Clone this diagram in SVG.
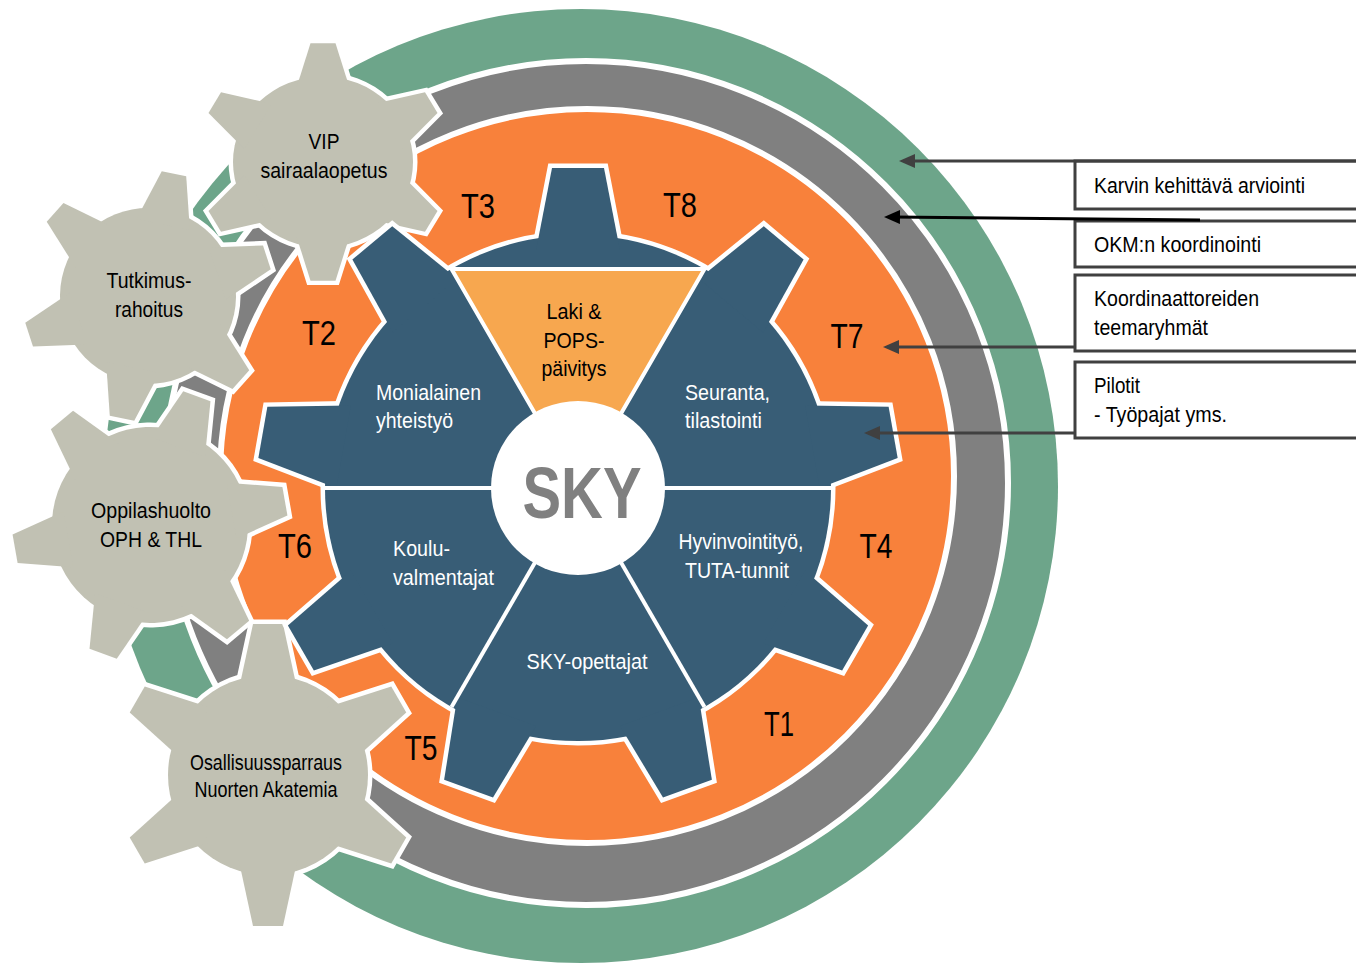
<svg xmlns="http://www.w3.org/2000/svg" width="1356" height="965" viewBox="0 0 1356 965">
<style>
.beige{fill:#C1C1B3}
.blue{fill:#385D76}
.gs{stroke:#fff;stroke-width:9;stroke-linejoin:miter}
.gf{stroke:none}
.lbl{font-family:"Liberation Sans Narrow","Liberation Sans",Arial,sans-serif;font-size:22px}
.t{font-size:35px;text-anchor:middle;fill:#000}
.w{fill:#fff}
.k{fill:#000}
.mid{text-anchor:middle}
.box{fill:#fff;stroke:#404040;stroke-width:3}
.arr{stroke:#404040;stroke-width:3;fill:none}
.div{stroke:#fff;stroke-width:4}
</style>
<defs>
<marker id="ah" markerUnits="userSpaceOnUse" markerWidth="16" markerHeight="14" refX="6" refY="7" orient="auto"><path d="M0,0 L16,7 L0,14 z" fill="#404040"/></marker>
<marker id="ahk" markerUnits="userSpaceOnUse" markerWidth="16" markerHeight="14" refX="6" refY="7" orient="auto"><path d="M0,0 L16,7 L0,14 z" fill="#000"/></marker>
<polygon id="tooth-vip" points="-27.5,-75 -12.5,-125 12.5,-125 27.5,-75"/>
<g id="shape-vip"><circle r="90"/><use href="#tooth-vip"/><use href="#tooth-vip" transform="rotate(60)"/><use href="#tooth-vip" transform="rotate(120)"/><use href="#tooth-vip" transform="rotate(180)"/><use href="#tooth-vip" transform="rotate(240)"/><use href="#tooth-vip" transform="rotate(300)"/></g>
<polygon id="tooth-tut" points="-27.3,-73 -12.5,-125 12.5,-125 27.3,-73"/>
<g id="shape-tut"><circle r="88"/><use href="#tooth-tut"/><use href="#tooth-tut" transform="rotate(60)"/><use href="#tooth-tut" transform="rotate(120)"/><use href="#tooth-tut" transform="rotate(180)"/><use href="#tooth-tut" transform="rotate(240)"/><use href="#tooth-tut" transform="rotate(300)"/></g>
<polygon id="tooth-opp" points="-28.3,-83 -14.5,-137 14.5,-137 28.3,-83"/>
<g id="shape-opp"><circle r="98"/><use href="#tooth-opp"/><use href="#tooth-opp" transform="rotate(60)"/><use href="#tooth-opp" transform="rotate(120)"/><use href="#tooth-opp" transform="rotate(180)"/><use href="#tooth-opp" transform="rotate(240)"/><use href="#tooth-opp" transform="rotate(300)"/></g>
<polygon id="tooth-osa" points="-29.3,-85 -15,-151 15,-151 29.3,-85"/>
<g id="shape-osa"><circle r="100"/><use href="#tooth-osa"/><use href="#tooth-osa" transform="rotate(60)"/><use href="#tooth-osa" transform="rotate(120)"/><use href="#tooth-osa" transform="rotate(180)"/><use href="#tooth-osa" transform="rotate(240)"/><use href="#tooth-osa" transform="rotate(300)"/></g>
<polygon id="tooth-blue" points="-41.9,-238 -26,-320 26,-320 41.9,-238"/>
<g id="shape-blue"><circle r="253"/><use href="#tooth-blue"/><use href="#tooth-blue" transform="rotate(40)"/><use href="#tooth-blue" transform="rotate(80)"/><use href="#tooth-blue" transform="rotate(120)"/><use href="#tooth-blue" transform="rotate(160)"/><use href="#tooth-blue" transform="rotate(200)"/><use href="#tooth-blue" transform="rotate(240)"/><use href="#tooth-blue" transform="rotate(280)"/><use href="#tooth-blue" transform="rotate(320)"/></g>
</defs>

<g id="rings">
<circle id="ring-karvi" cx="581" cy="486" r="477" fill="#6DA58A"/>
<circle id="ring-okm" cx="586" cy="483" r="422" fill="#808080" stroke="#fff" stroke-width="6"/>
<circle id="ring-teema" cx="587" cy="476" r="367" fill="#F8813B" stroke="#fff" stroke-width="6"/>
</g>

<g id="ring-labels" class="lbl">
<text class="t" x="478" y="218" textLength="34" lengthAdjust="spacingAndGlyphs">T3</text>
<text class="t" x="680" y="217" textLength="34" lengthAdjust="spacingAndGlyphs">T8</text>
<text class="t" x="319" y="345" textLength="34" lengthAdjust="spacingAndGlyphs">T2</text>
<text class="t" x="847" y="348" textLength="33" lengthAdjust="spacingAndGlyphs">T7</text>
<text class="t" x="295" y="558" textLength="34" lengthAdjust="spacingAndGlyphs">T6</text>
<text class="t" x="876" y="558" textLength="33" lengthAdjust="spacingAndGlyphs">T4</text>
<text class="t" x="421" y="760" textLength="33" lengthAdjust="spacingAndGlyphs">T5</text>
<text class="t" x="779" y="736" textLength="30" lengthAdjust="spacingAndGlyphs">T1</text>
</g>

<g id="gear-vip">
<g transform="translate(323,162) scale(1,0.95)">
<use href="#shape-vip" class="beige gs"/>
<use href="#shape-vip" class="beige gf"/>
</g>
<text class="lbl k mid" x="324" y="149" textLength="31" lengthAdjust="spacingAndGlyphs">VIP</text>
<text class="lbl k mid" x="324" y="178" textLength="127" lengthAdjust="spacingAndGlyphs">sairaalaopetus</text>
</g>

<g id="gear-tutkimus">
<g transform="translate(148,296) rotate(12)">
<use href="#shape-tut" class="beige gs"/>
<use href="#shape-tut" class="beige gf"/>
</g>
<text class="lbl k mid" x="149" y="288" textLength="85" lengthAdjust="spacingAndGlyphs">Tutkimus-</text>
<text class="lbl k mid" x="149" y="317" textLength="68" lengthAdjust="spacingAndGlyphs">rahoitus</text>
</g>

<g id="gear-oppilashuolto">
<g transform="translate(150,525) rotate(20)">
<use href="#shape-opp" class="beige gs"/>
<use href="#shape-opp" class="beige gf"/>
</g>
<text class="lbl k mid" x="151" y="518" textLength="120" lengthAdjust="spacingAndGlyphs">Oppilashuolto</text>
<text class="lbl k mid" x="151" y="547" textLength="102" lengthAdjust="spacingAndGlyphs">OPH &amp; THL</text>
</g>

<g id="gear-osallisuus">
<g transform="translate(268,775)">
<use href="#shape-osa" class="beige gs"/>
<use href="#shape-osa" class="beige gf"/>
</g>
<text class="lbl k mid" x="266" y="770" textLength="152" lengthAdjust="spacingAndGlyphs">Osallisuussparraus</text>
<text class="lbl k mid" x="266" y="797" textLength="143" lengthAdjust="spacingAndGlyphs">Nuorten Akatemia</text>
</g>

<g id="gear-sky">
<g transform="translate(578,488)">
<use href="#shape-blue" class="blue gs"/>
<use href="#shape-blue" class="blue gf"/>
<polygon id="laki" points="0,0 -126.5,-219.1 126.5,-219.1" fill="#F7A74F" stroke="#fff" stroke-width="4"/>
<line class="div" x1="0" y1="0" x2="253" y2="0"/>
<line class="div" x1="0" y1="0" x2="-253" y2="0"/>
<line class="div" x1="0" y1="0" x2="126.5" y2="219.1"/>
<line class="div" x1="0" y1="0" x2="-126.5" y2="219.1"/>
<circle r="87" fill="#fff"/>
</g>
<text x="582" y="518" font-family="Liberation Sans Narrow, Liberation Sans, Arial, sans-serif" font-weight="bold" font-size="72" fill="#808080" text-anchor="middle" textLength="119" lengthAdjust="spacingAndGlyphs">SKY</text>
</g>

<g id="sector-laki" class="lbl k mid">
<text x="574" y="319" textLength="55" lengthAdjust="spacingAndGlyphs">Laki &amp;</text>
<text x="574" y="348" textLength="61" lengthAdjust="spacingAndGlyphs">POPS-</text>
<text x="574" y="376" textLength="65" lengthAdjust="spacingAndGlyphs">päivitys</text>
</g>
<g id="sector-monialainen" class="lbl w">
<text x="376" y="400" textLength="105" lengthAdjust="spacingAndGlyphs">Monialainen</text>
<text x="376" y="428" textLength="77" lengthAdjust="spacingAndGlyphs">yhteistyö</text>
</g>
<g id="sector-seuranta" class="lbl w">
<text x="685" y="400" textLength="85" lengthAdjust="spacingAndGlyphs">Seuranta,</text>
<text x="685" y="428" textLength="77" lengthAdjust="spacingAndGlyphs">tilastointi</text>
</g>
<g id="sector-hyvinvointi" class="lbl w mid">
<text x="741" y="549" textLength="125" lengthAdjust="spacingAndGlyphs">Hyvinvointityö,</text>
<text x="737" y="578" textLength="104" lengthAdjust="spacingAndGlyphs">TUTA-tunnit</text>
</g>
<g id="sector-koulu" class="lbl w">
<text x="393" y="556" textLength="57" lengthAdjust="spacingAndGlyphs">Koulu-</text>
<text x="393" y="585" textLength="101" lengthAdjust="spacingAndGlyphs">valmentajat</text>
</g>
<g id="sector-skyopettajat" class="lbl w mid">
<text x="587" y="669" textLength="121" lengthAdjust="spacingAndGlyphs">SKY-opettajat</text>
</g>

<g id="box-karvi">
<rect class="box" x="1075" y="161" width="300" height="48"/>
<text class="lbl k" x="1094" y="193" textLength="211" lengthAdjust="spacingAndGlyphs">Karvin kehittävä arviointi</text>
</g>
<g id="box-okm">
<rect class="box" x="1075" y="221" width="300" height="46"/>
<text class="lbl k" x="1094" y="252" textLength="167" lengthAdjust="spacingAndGlyphs">OKM:n koordinointi</text>
</g>
<g id="box-teema">
<rect class="box" x="1075" y="275" width="300" height="76"/>
<text class="lbl k" x="1094" y="306" textLength="165" lengthAdjust="spacingAndGlyphs">Koordinaattoreiden</text>
<text class="lbl k" x="1094" y="335" textLength="114" lengthAdjust="spacingAndGlyphs">teemaryhmät</text>
</g>
<g id="box-pilotit">
<rect class="box" x="1075" y="362" width="300" height="76"/>
<text class="lbl k" x="1094" y="393" textLength="46" lengthAdjust="spacingAndGlyphs">Pilotit</text>
<text class="lbl k" x="1094" y="422" textLength="133" lengthAdjust="spacingAndGlyphs">- Työpajat yms.</text>
</g>

<g id="connectors">
<line class="arr" x1="1356" y1="161" x2="909" y2="161" marker-end="url(#ah)"/>
<line x1="1200" y1="220" x2="894" y2="217" stroke="#000" stroke-width="3" marker-end="url(#ahk)"/>
<line class="arr" x1="1075" y1="347" x2="893" y2="347" marker-end="url(#ah)"/>
<line class="arr" x1="1075" y1="433" x2="874" y2="433" marker-end="url(#ah)"/>
</g>
</svg>
